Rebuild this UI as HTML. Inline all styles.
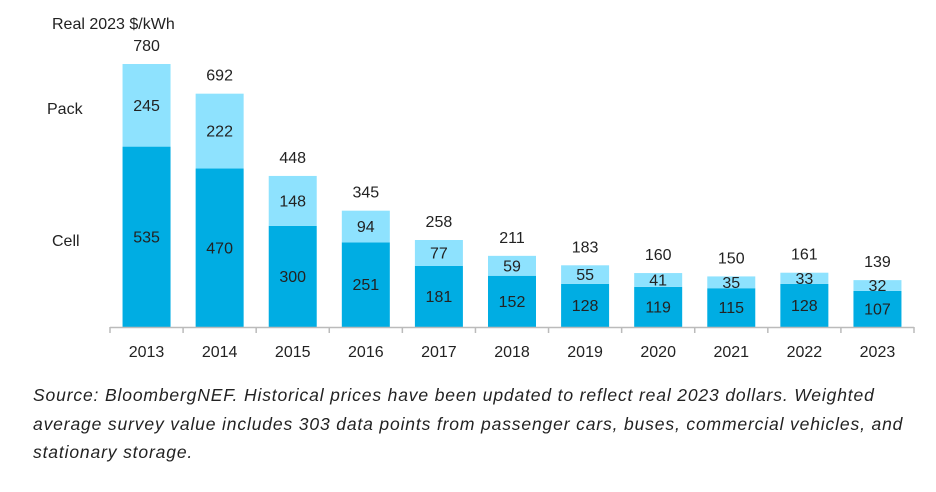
<!DOCTYPE html>
<html><head><meta charset="utf-8"><style>
body{margin:0;background:#fff;width:936px;height:492px;overflow:hidden;font-family:"Liberation Sans",Arial,sans-serif}
#src{position:absolute;left:33px;top:381px;width:900px;font-style:italic;font-size:17.5px;line-height:28.5px;color:#222;white-space:nowrap;letter-spacing:0.85px}
</style></head><body>
<svg id="chart" width="936" height="380" style="position:absolute;left:0;top:0" font-family="Liberation Sans, Arial, sans-serif" font-size="16" fill="#222"></svg>
<div id="src">Source: BloombergNEF. Historical prices have been updated to reflect real 2023 dollars. Weighted<br>average survey value includes 303 data points from passenger cars, buses, commercial vehicles, and<br>stationary storage.</div>
<script>
const years=["2013","2014","2015","2016","2017","2018","2019","2020","2021","2022","2023"];
const cell=[535,470,300,251,181,152,128,119,115,128,107];
const pack=[245,222,148,94,77,59,55,41,35,33,32];
const totals=[780,692,448,345,258,211,183,160,150,161,139];
const svg=document.getElementById('chart');
const NS='http://www.w3.org/2000/svg';
const x0=110,x1=914,base=327,scale=263/780;
const step=(x1-x0)/years.length,bw=48;
const y=v=>base-v*scale;
const cx=i=>x0+step*(i+0.5);
function mk(tag,attrs,text){const e=document.createElementNS(NS,tag);for(const k in attrs)e.setAttribute(k,attrs[k]);if(text!==undefined)e.textContent=text;svg.appendChild(e);return e;}
years.forEach((yr,i)=>{
 const c=cx(i);
 let r=mk('rect',{x:c-bw/2,y:y(cell[i]),width:bw,height:base-y(cell[i]),fill:'#00ADE3'});
 
 
 let p=mk('rect',{x:c-bw/2,y:y(cell[i]+pack[i]),width:bw,height:pack[i]*scale,fill:'#8EE2FE'});
 
 
 let t1=mk('text',{x:c,y:(y(cell[i])+base)/2+5.5,'text-anchor':'middle'},cell[i]);
 
 
 let t2=mk('text',{x:c,y:(y(cell[i])+y(cell[i]+pack[i]))/2+5.5,'text-anchor':'middle'},pack[i]);
 
 
 let t3=mk('text',{x:c,y:y(totals[i])-13,'text-anchor':'middle'},totals[i]);
 
 
 let t4=mk('text',{x:c,y:357,'text-anchor':'middle'},yr);
 
 
});
let ax=mk('line',{x1:x0,x2:x1,y1:base+0.5,y2:base+0.5,stroke:'#bbb','stroke-width':1.5});


for(let i=0;i<=years.length;i++){
 let t=mk('line',{x1:x0+step*i,x2:x0+step*i,y1:base,y2:base+6,stroke:'#bbb','stroke-width':1.5});
 
 
}
let u=mk('text',{x:52,y:29},'Real 2023 $/kWh');


let lp=mk('text',{x:47,y:114},'Pack');


let lc=mk('text',{x:52,y:246},'Cell');


</script>
</body></html>
